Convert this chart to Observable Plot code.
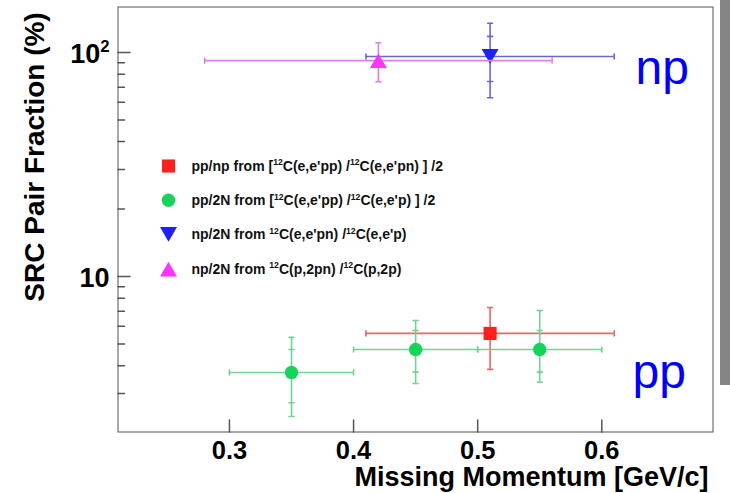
<!DOCTYPE html>
<html>
<head>
<meta charset="utf-8">
<script src="https://cdn.jsdelivr.net/npm/d3@7"></script>
<script src="https://cdn.jsdelivr.net/npm/@observablehq/plot@0.6"></script>
<style>
  html, body { margin: 0; padding: 0; background: #fff; }
  #wrap { position: relative; width: 730px; height: 493px; overflow: hidden; background: #fff; }
  #edge { position: absolute; left: 720px; top: 0; width: 10px; height: 385px; background: #858585; }
</style>
</head>
<body>
<div id="wrap"><div id="chart"></div><div id="edge"></div></div>
<script>
// ---- axis values ----
const xTicks = [0.3, 0.4, 0.5, 0.6];
const xTickLabels = ["0.3", "0.4", "0.5", "0.6"];
const yMajor = [10, 100];
const yTickLabels = ["10", "10^{2}"];
const yMinor = [3, 4, 5, 6, 7, 8, 9, 20, 30, 40, 50, 60, 70, 80, 90];
const xTitle = "Missing Momentum [GeV/c]";
const yTitle = "SRC Pair Fraction (%)";

// ---- series (x, x-range, y, outer y error, inner y error) ----
const ppNp = [
  {x: 0.51, xlo: 0.41, xhi: 0.61, y: 5.57, ylo: 3.85, yhi: 7.27}
];
const pp2N = [
  {x: 0.35, xlo: 0.30, xhi: 0.40, y: 3.73, ylo: 2.37, yhi: 5.35, iylo: 2.73, iyhi: 4.72},
  {x: 0.45, xlo: 0.40, xhi: 0.50, y: 4.72, ylo: 3.33, yhi: 6.36, iylo: 3.74, iyhi: 5.74},
  {x: 0.55, xlo: 0.50, xhi: 0.60, y: 4.72, ylo: 3.37, yhi: 7.05, iylo: 3.74, iyhi: 5.74}
];
const np2N = [
  {x: 0.51, xlo: 0.41, xhi: 0.61, y: 96, ylo: 62.8, yhi: 135, iylo: 74.2, iyhi: 118}
];
const np2Np = [
  {x: 0.42, xlo: 0.28, xhi: 0.56, y: 92, ylo: 74, yhi: 110.5}
];

// ---- legend ----
const legendLabels = [
  "pp/np from [^{12}C(e,e'pp) /^{12}C(e,e'pn) ] /2",
  "pp/2N from [^{12}C(e,e'pp) /^{12}C(e,e'p) ] /2",
  "np/2N from ^{12}C(e,e'pn) /^{12}C(e,e'p)",
  "np/2N from ^{12}C(p,2pn) /^{12}C(p,2p)"
];
const regionLabels = ["np", "pp"];

const series = [
  {data: ppNp, fill: "#ff1f1f", bar: "#e4676a", symbol: "square", r: 7.4, rot: 0, ddy: 0},
  {data: pp2N, fill: "#17d35a", bar: "#72d293", symbol: "circle", r: 6.7, rot: 0, ddy: 0},
  {data: np2N, fill: "#1f1fff", bar: "#6767d2", symbol: "triangle", r: 6.3, rot: 180, ddy: -2.6},
  {data: np2Np, fill: "#ff33ff", bar: "#e37be6", symbol: "triangle", r: 6.3, rot: 0, ddy: 2.6}
];

const lineShape = {draw(ctx, l) { ctx.moveTo(0, 0); ctx.lineTo(0, -l); }};
const axisColor = "#555";
const font = "'Liberation Sans', Arial, Helvetica, sans-serif";

const marks = [];

// error bars and markers
for (const s of series) {
  marks.push(Plot.ruleY(s.data, {y: "y", x1: "xlo", x2: "xhi", stroke: s.bar, strokeWidth: 1.6}));
  marks.push(Plot.ruleX(s.data, {x: "x", y1: "ylo", y2: "yhi", stroke: s.bar, strokeWidth: 1.6}));
  const hCaps = s.data.flatMap(d => [{x: d.xlo, y: d.y}, {x: d.xhi, y: d.y}]);
  const vCaps = s.data.flatMap(d => {
    const c = [{x: d.x, y: d.ylo}, {x: d.x, y: d.yhi}];
    if (d.iylo != null) c.push({x: d.x, y: d.iylo}, {x: d.x, y: d.iyhi});
    return c;
  });
  marks.push(Plot.vector(hCaps, {x: "x", y: "y", length: 5, rotate: 0, anchor: "middle", shape: lineShape, stroke: s.bar, strokeWidth: 1.6}));
  marks.push(Plot.vector(vCaps, {x: "x", y: "y", length: 5, rotate: 90, anchor: "middle", shape: lineShape, stroke: s.bar, strokeWidth: 1.6}));
  marks.push(Plot.dot(s.data, {x: "x", y: "y", symbol: s.symbol, r: s.r, fill: s.fill, stroke: "none", rotate: s.rot, dy: s.ddy}));
}

// frame
marks.push(Plot.frame({stroke: axisColor, strokeWidth: 1}));

// axis ticks (inward)
marks.push(Plot.vector(xTicks, {x: d => d, frameAnchor: "bottom", length: 12, rotate: 0, anchor: "start", shape: lineShape, stroke: axisColor}));
marks.push(Plot.vector(yMajor, {y: d => d, frameAnchor: "left", length: 12, rotate: 90, anchor: "start", shape: lineShape, stroke: axisColor}));
marks.push(Plot.vector(yMinor, {y: d => d, frameAnchor: "left", length: 6.5, rotate: 90, anchor: "start", shape: lineShape, stroke: axisColor}));

// tick labels
marks.push(Plot.text(xTicks, {x: d => d, text: (d, i) => xTickLabels[i], frameAnchor: "bottom", lineAnchor: "bottom", dy: 27, fontSize: 25.5, fontWeight: "bold", fill: "#000"}));
marks.push(Plot.text(yMajor, {y: d => d, text: (d, i) => yTickLabels[i], frameAnchor: "left", textAnchor: "end", lineAnchor: "bottom", dx: -8.5, dy: 10.5, fontSize: 27, fontWeight: "bold", fill: "#000"}));

// axis titles
marks.push(Plot.text([xTitle], {text: d => d, frameAnchor: "bottom-right", textAnchor: "end", lineAnchor: "bottom", dx: -4.5, dy: 53.5, fontSize: 27, fontWeight: "bold", fill: "#000"}));
marks.push(Plot.text([yTitle], {text: d => d, frameAnchor: "left", rotate: -90, textAnchor: "middle", lineAnchor: "bottom", dx: -74.5, dy: -62.5, fontSize: 28, fontWeight: "bold", fill: "#000"}));

// region labels
marks.push(Plot.text([regionLabels[0]], {text: d => d, frameAnchor: "top-right", textAnchor: "end", lineAnchor: "bottom", dx: -24, dy: 76.5, fontSize: 48, fill: "#0000ff"}));
marks.push(Plot.text([regionLabels[1]], {text: d => d, frameAnchor: "bottom-right", textAnchor: "end", lineAnchor: "bottom", dx: -27, dy: -44.5, fontSize: 48, fill: "#0000ff"}));

// legend
legendLabels.forEach((lab, i) => {
  const s = series[i];
  const rowY = 159 + i * 34.3;
  marks.push(Plot.dot([lab], {frameAnchor: "top-left", dx: 50.5, dy: rowY + s.ddy, symbol: s.symbol, r: s.r, fill: s.fill, stroke: "none", rotate: s.rot}));
  marks.push(Plot.text([lab], {text: d => d, frameAnchor: "top-left", textAnchor: "start", lineAnchor: "bottom", dx: 73.5, dy: rowY + 4.8, fontSize: 14, fontWeight: "bold", fill: "#111"}));
});

const chart = Plot.plot({
  width: 730,
  height: 493,
  marginLeft: 117.5,
  marginRight: 17.5,
  marginTop: 6.5,
  marginBottom: 61.5,
  x: {domain: [0.2102, 0.6896], axis: null},
  y: {type: "log", domain: [2.022, 159.6], axis: null},
  style: {fontFamily: font, background: "#fff", overflow: "visible"},
  marks
});

// superscripts: turn ^{..} into raised tspans
function supify(svg) {
  svg.querySelectorAll("text").forEach(t => {
    const s = t.textContent;
    if (!s.includes("^{")) return;
    const g = t.closest("[font-size]");
    const fs = g ? parseFloat(g.getAttribute("font-size")) : 12;
    const shift = fs * 0.4, sfs = fs * 0.62;
    t.textContent = "";
    const parts = s.split(/\^\{([^}]*)\}/);
    let cur = 0;
    parts.forEach((p, i) => {
      if (!p) return;
      const sup = i % 2 === 1;
      const target = sup ? -shift : 0;
      const ts = document.createElementNS("http://www.w3.org/2000/svg", "tspan");
      if (target !== cur) ts.setAttribute("dy", (target - cur).toFixed(2));
      cur = target;
      if (sup) ts.setAttribute("font-size", sfs.toFixed(2));
      ts.textContent = p;
      t.appendChild(ts);
    });
  });
}
supify(chart);
document.getElementById("chart").appendChild(chart);
</script>
</body>
</html>
